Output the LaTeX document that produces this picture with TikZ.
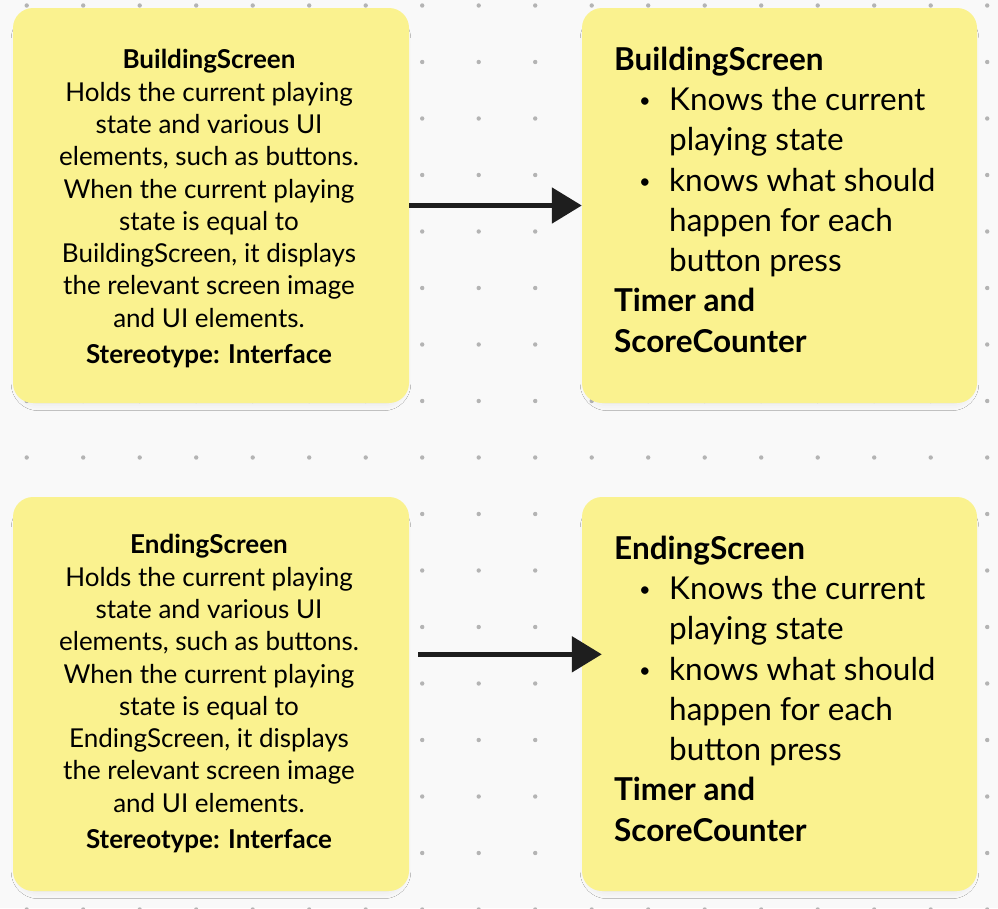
\documentclass[tikz,border=0pt]{standalone}
\usepackage{fontspec}
\setmainfont{Lato}
\usetikzlibrary{arrows.meta,shadows.blur}

\definecolor{canvas}{HTML}{F9F9F9}
\definecolor{griddot}{HTML}{B4B4B4}
\definecolor{sticky}{HTML}{FAF28F}
\definecolor{ink}{HTML}{1E1E1E}

% small round bullet and hanging indent for the responsibility lists
\newcommand{\bulitem}{\makebox[55pt][l]{\hspace*{25pt}\raisebox{0.09em}{\fontsize{20}{20}\selectfont\textbullet}}}
\newcommand{\bulcont}{\hspace*{55pt}}

\tikzset{
  card/.style={fill=sticky, rounded corners=20pt, draw=none,
    minimum width=396pt, minimum height=395pt, inner sep=0pt,
    blur shadow={shadow xshift=0pt, shadow yshift=-6pt,
      shadow blur radius=8pt, shadow opacity=10, shadow scale=0.97}},
  desc/.style={align=center, inner sep=0pt, text=black,
    font=\fontsize{26}{32.3}\selectfont},
  resp/.style={align=left, inner sep=0pt, anchor=north west, text=black,
    font=\fontsize{31.5}{40.3}\selectfont},
  link/.style={draw=ink, line width=5.3pt,
    -{Triangle[length=30pt, width=35pt]}}
}

\begin{document}
\begin{tikzpicture}[x=1pt, y=-1pt]
  \useasboundingbox (0,0) rectangle (998,908);
  \clip (0,0) rectangle (998,908);
  \fill[canvas] (0,0) rectangle (998,908);

  % dotted canvas grid
  \foreach \i in {0,...,17}
    \foreach \j in {0,...,16}
      \fill[griddot] (26.7+56.5*\i, 5.5+56.5*\j) circle (2.2pt);

  % sticky notes
  \node[card] (b1) at (211, 205.5) {};
  \node[card, minimum width=395pt] (b2) at (779.5, 205.5) {};
  \node[card, minimum height=394pt] (b3) at (211, 694) {};
  \node[card, minimum width=395pt, minimum height=394pt] (b4) at (779.5, 694) {};

  % descriptions
  \node[desc] (t1) at (209, 208.5) {\textbf{BuildingScreen}\\
    Holds the current playing\\
    state and various UI\\
    elements, such as buttons.\\
    When the current playing\\
    state is equal to\\
    BuildingScreen, it displays\\
    the relevant screen image\\
    and UI elements.\\[3.5pt]
    \textbf{Stereotype: Interface}};

  \node[desc] (t3) at (209, 693.5) {\textbf{EndingScreen}\\
    Holds the current playing\\
    state and various UI\\
    elements, such as buttons.\\
    When the current playing\\
    state is equal to\\
    EndingScreen, it displays\\
    the relevant screen image\\
    and UI elements.\\[3.5pt]
    \textbf{Stereotype: Interface}};

  % responsibilities
  \node[resp] (t2) at (614, 46.5) {\textbf{BuildingScreen}\\
    \bulitem Knows the current\\
    \bulcont playing state\\
    \bulitem knows what should\\
    \bulcont happen for each\\
    \bulcont button press\\
    \textbf{Timer and}\\
    \textbf{ScoreCounter}};

  \node[resp] (t4) at (614, 535.5) {\textbf{EndingScreen}\\
    \bulitem Knows the current\\
    \bulcont playing state\\
    \bulitem knows what should\\
    \bulcont happen for each\\
    \bulcont button press\\
    \textbf{Timer and}\\
    \textbf{ScoreCounter}};

  % connectors
  \draw[link] (b1.east) -- (b2.west);
  \draw[link] ([xshift=9pt, yshift=39.7pt]b3.east) -- ([xshift=20pt, yshift=39.7pt]b4.west);
\end{tikzpicture}
\end{document}
